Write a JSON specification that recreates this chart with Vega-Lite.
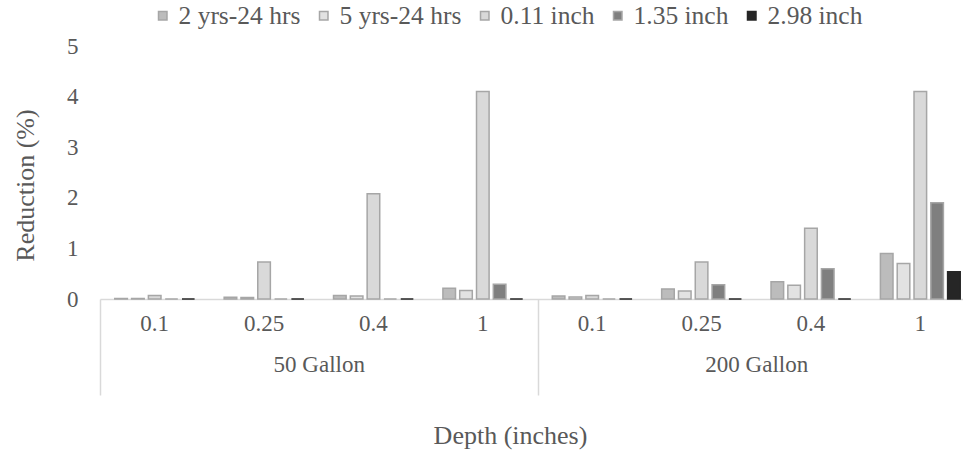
{
  "$schema": "https://vega.github.io/schema/vega-lite/v6.json",
  "width": 875,
  "height": 253,
  "autosize": {"type": "none"},
  "padding": {"left": 100, "top": 46, "right": 0, "bottom": 151},
  "background": "white",
  "config": {
    "font": "Liberation Serif",
    "view": {"stroke": null},
    "axis": {"labelColor": "#595959", "titleColor": "#595959", "labelFont": "Liberation Serif", "titleFont": "Liberation Serif", "titleFontWeight": "normal"},
    "legend": {"labelColor": "#595959", "labelFont": "Liberation Serif"}
  },
  "data": {
    "values": [
      {"group": "50 Gallon", "depth": "0.1", "series": "2 yrs-24 hrs", "value": 0.01},
      {"group": "50 Gallon", "depth": "0.1", "series": "5 yrs-24 hrs", "value": 0.01},
      {"group": "50 Gallon", "depth": "0.1", "series": "0.11 inch", "value": 0.07},
      {"group": "50 Gallon", "depth": "0.1", "series": "1.35 inch", "value": 0},
      {"group": "50 Gallon", "depth": "0.1", "series": "2.98 inch", "value": 0},
      {"group": "50 Gallon", "depth": "0.25", "series": "2 yrs-24 hrs", "value": 0.035},
      {"group": "50 Gallon", "depth": "0.25", "series": "5 yrs-24 hrs", "value": 0.03},
      {"group": "50 Gallon", "depth": "0.25", "series": "0.11 inch", "value": 0.73},
      {"group": "50 Gallon", "depth": "0.25", "series": "1.35 inch", "value": 0},
      {"group": "50 Gallon", "depth": "0.25", "series": "2.98 inch", "value": 0},
      {"group": "50 Gallon", "depth": "0.4", "series": "2 yrs-24 hrs", "value": 0.07},
      {"group": "50 Gallon", "depth": "0.4", "series": "5 yrs-24 hrs", "value": 0.06},
      {"group": "50 Gallon", "depth": "0.4", "series": "0.11 inch", "value": 2.08},
      {"group": "50 Gallon", "depth": "0.4", "series": "1.35 inch", "value": 0},
      {"group": "50 Gallon", "depth": "0.4", "series": "2.98 inch", "value": 0},
      {"group": "50 Gallon", "depth": "1", "series": "2 yrs-24 hrs", "value": 0.21},
      {"group": "50 Gallon", "depth": "1", "series": "5 yrs-24 hrs", "value": 0.17},
      {"group": "50 Gallon", "depth": "1", "series": "0.11 inch", "value": 4.1},
      {"group": "50 Gallon", "depth": "1", "series": "1.35 inch", "value": 0.29},
      {"group": "50 Gallon", "depth": "1", "series": "2.98 inch", "value": 0},
      {"group": "200 Gallon", "depth": "0.1", "series": "2 yrs-24 hrs", "value": 0.06},
      {"group": "200 Gallon", "depth": "0.1", "series": "5 yrs-24 hrs", "value": 0.04},
      {"group": "200 Gallon", "depth": "0.1", "series": "0.11 inch", "value": 0.07},
      {"group": "200 Gallon", "depth": "0.1", "series": "1.35 inch", "value": 0},
      {"group": "200 Gallon", "depth": "0.1", "series": "2.98 inch", "value": 0},
      {"group": "200 Gallon", "depth": "0.25", "series": "2 yrs-24 hrs", "value": 0.2},
      {"group": "200 Gallon", "depth": "0.25", "series": "5 yrs-24 hrs", "value": 0.16},
      {"group": "200 Gallon", "depth": "0.25", "series": "0.11 inch", "value": 0.73},
      {"group": "200 Gallon", "depth": "0.25", "series": "1.35 inch", "value": 0.28},
      {"group": "200 Gallon", "depth": "0.25", "series": "2.98 inch", "value": 0},
      {"group": "200 Gallon", "depth": "0.4", "series": "2 yrs-24 hrs", "value": 0.34},
      {"group": "200 Gallon", "depth": "0.4", "series": "5 yrs-24 hrs", "value": 0.27},
      {"group": "200 Gallon", "depth": "0.4", "series": "0.11 inch", "value": 1.4},
      {"group": "200 Gallon", "depth": "0.4", "series": "1.35 inch", "value": 0.6},
      {"group": "200 Gallon", "depth": "0.4", "series": "2.98 inch", "value": 0},
      {"group": "200 Gallon", "depth": "1", "series": "2 yrs-24 hrs", "value": 0.9},
      {"group": "200 Gallon", "depth": "1", "series": "5 yrs-24 hrs", "value": 0.7},
      {"group": "200 Gallon", "depth": "1", "series": "0.11 inch", "value": 4.1},
      {"group": "200 Gallon", "depth": "1", "series": "1.35 inch", "value": 1.9},
      {"group": "200 Gallon", "depth": "1", "series": "2.98 inch", "value": 0.54}
    ]
  },
  "transform": [
    {"calculate": "datum.group + '|' + datum.depth", "as": "cat"}
  ],
  "layer": [
    {
      "mark": {"type": "bar", "strokeWidth": 1.5},
      "encoding": {
        "x": {
          "field": "cat",
          "type": "nominal",
          "sort": ["50 Gallon|0.1", "50 Gallon|0.25", "50 Gallon|0.4", "50 Gallon|1", "200 Gallon|0.1", "200 Gallon|0.25", "200 Gallon|0.4", "200 Gallon|1"],
          "scale": {"paddingInner": 0, "paddingOuter": 0},
          "axis": {
            "orient": "bottom",
            "title": null,
            "labelExpr": "split(datum.label, '|')[1]",
            "labelAngle": 0,
            "labelFontSize": 23,
            "labelPadding": 13,
            "ticks": false,
            "domain": true,
            "domainColor": "#d9d9d9",
            "domainWidth": 1.5
          }
        },
        "xOffset": {
          "field": "series",
          "type": "nominal",
          "sort": ["2 yrs-24 hrs", "5 yrs-24 hrs", "0.11 inch", "1.35 inch", "2.98 inch"],
          "scale": {"paddingInner": 0.25, "paddingOuter": 0.88}
        },
        "y": {
          "field": "value",
          "type": "quantitative",
          "scale": {"domain": [0, 5]},
          "axis": {
            "title": "Reduction (%)",
            "titleFontSize": 26,
            "titlePadding": 28,
            "titleY": 139,
            "titleAnchor": null,
            "values": [0, 1, 2, 3, 4, 5],
            "labelFontSize": 23,
            "labelPadding": 22,
            "grid": false,
            "ticks": false,
            "domain": false
          }
        },
        "fill": {
          "field": "series",
          "type": "nominal",
          "sort": ["2 yrs-24 hrs", "5 yrs-24 hrs", "0.11 inch", "1.35 inch", "2.98 inch"],
          "scale": {"range": ["#bcbcbc", "#e2e2e2", "#d9d9d9", "#7f7f7f", "#262626"]},
          "legend": {
            "title": null,
            "orient": "none",
            "legendX": 50,
            "legendY": -43,
            "direction": "horizontal",
            "gridAlign": "none",
            "columnPadding": 10,
            "symbolType": "square",
            "symbolSize": 72,
            "symbolStrokeWidth": 1.5,
            "labelFont": "Liberation Serif",
            "labelFontSize": 25.5,
            "labelOffset": 3,
            "padding": 0,
            "encode": {
              "symbols": {"update": {"stroke": {"scale": "stroke", "field": "value"}}}
            }
          }
        },
        "stroke": {
          "field": "series",
          "type": "nominal",
          "sort": ["2 yrs-24 hrs", "5 yrs-24 hrs", "0.11 inch", "1.35 inch", "2.98 inch"],
          "scale": {"range": ["#a6a6a6", "#a6a6a6", "#a6a6a6", "#a6a6a6", "#262626"]},
          "legend": null
        }
      }
    },
    {
      "mark": {"type": "point", "opacity": 0},
      "encoding": {
        "x": {
          "field": "group",
          "type": "nominal",
          "sort": ["50 Gallon", "200 Gallon"],
          "scale": {"paddingInner": 0, "paddingOuter": 0},
          "axis": {
            "orient": "bottom",
            "title": "Depth (inches)",
            "titleFontSize": 26,
            "titlePadding": 27,
            "titleX": 410,
            "titleAnchor": null,
            "titleAlign": "center",
            "labelAngle": 0,
            "labelFontSize": 23,
            "labelPadding": -42,
            "tickBand": "extent",
            "ticks": true,
            "tickSize": 96,
            "tickColor": "#d9d9d9",
            "tickWidth": 1.5,
            "domain": false
          }
        },
        "y": {"field": "value", "type": "quantitative"}
      }
    }
  ],
  "resolve": {"scale": {"x": "independent"}, "axis": {"x": "independent"}}
}
